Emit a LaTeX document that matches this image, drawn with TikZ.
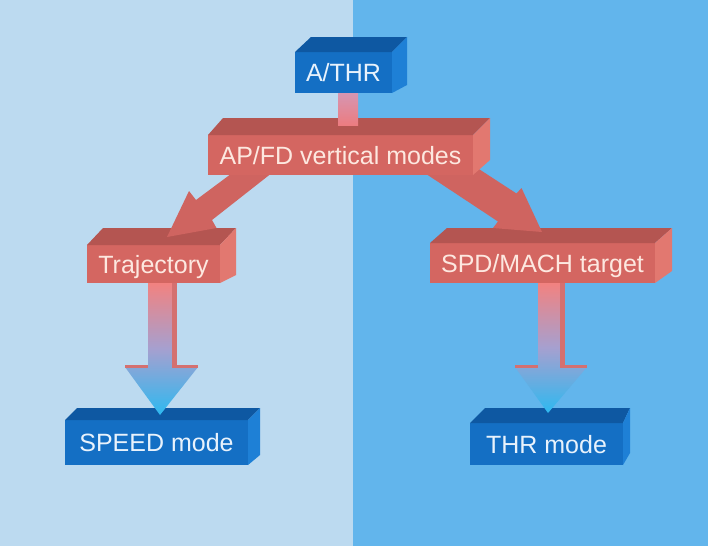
\documentclass[tikz,border=0pt]{standalone}
\usepackage{fontspec}
\setmainfont{Liberation Sans}
\usetikzlibrary{calc}
\pgfdeclarelayer{back}
\pgfdeclarelayer{low}
\pgfdeclarelayer{mid}
\pgfsetlayers{back,low,mid,main}

\definecolor{bgleft}{RGB}{188,218,240}
\definecolor{bgright}{RGB}{98,181,236}
\definecolor{bluefront}{RGB}{20,111,196}
\definecolor{bluetop}{RGB}{14,88,162}
\definecolor{blueside}{RGB}{30,128,214}
\definecolor{redfront}{RGB}{212,102,97}
\definecolor{redtop}{RGB}{180,85,81}
\definecolor{redside}{RGB}{226,120,112}
\definecolor{arrowred}{RGB}{207,100,96}
\definecolor{bandred}{RGB}{212,112,112}
\definecolor{bluetext}{RGB}{232,242,252}
\definecolor{redtext}{RGB}{253,232,224}
\definecolor{gradtop}{RGB}{242,130,128}
\definecolor{gradmid}{RGB}{165,160,208}
\definecolor{gradbot}{RGB}{45,185,240}
\definecolor{linktop}{RGB}{214,150,178}
\definecolor{linkbot}{RGB}{236,124,128}

% #1 node, #2 back-left dx, #3 back-right dx, #4 top dy, #5 side-bottom dy, #6 colour family
\newcommand\cubefaces[6]{%
  \fill[#6top] (#1.north west) -- ++(#2,#4) -- ($(#1.north east)+(#3,#4)$) -- (#1.north east) -- cycle;
  \fill[#6side] (#1.north east) -- ++(#3,#4) -- ($(#1.south east)+(#3,#5)$) -- (#1.south east) -- cycle;
}

\tikzset{
  boxbase/.style={inner sep=0pt, outer sep=0pt, font=\fontsize{25}{30}\selectfont,
    text height=18pt, text depth=0pt},
  bluebox/.style={boxbase, fill=bluefront, text=bluetext},
  redbox/.style={boxbase, fill=redfront, text=redtext},
  blockarrow/.style={fill=arrowred},
  gradarrow/.style={top color=gradtop, bottom color=gradbot, middle color=gradmid},
  sideband/.style={fill=bandred},
  linkbar/.style={top color=linktop, bottom color=linkbot}
}

\begin{document}
\begin{tikzpicture}[x=1pt,y=-1pt]
\useasboundingbox (0,0) rectangle (708,546);

\begin{pgfonlayer}{back}
  \fill[bgleft] (0,0) rectangle (353,546);
  \fill[bgright] (353,0) rectangle (708,546);
\end{pgfonlayer}

% lower boxes
\begin{pgfonlayer}{low}
  \node[redbox, minimum width=133pt, minimum height=38pt] (traj) at (153.5,264) {Trajectory};
  \cubefaces{traj}{16}{16}{-17}{-8}{red}
  \node[redbox, minimum width=225pt, minimum height=40pt] (spd) at (542.5,263) {SPD/MACH target};
  \cubefaces{spd}{17}{17}{-15}{-12}{red}
  \node[bluebox, minimum width=183pt, minimum height=45pt] (speed) at (156.5,442.5) {SPEED mode};
  \cubefaces{speed}{12}{12}{-12}{-10}{blue}
  \node[bluebox, minimum width=153pt, minimum height=42pt] (thr) at (546.5,444) {THR mode};
  \cubefaces{thr}{15}{7}{-15}{-12}{blue}
\end{pgfonlayer}

% upper boxes
\node[redbox, minimum width=265pt, minimum height=40pt] (apfd) at (340.5,155) {AP/FD vertical modes};
\cubefaces{apfd}{15}{17}{-17}{-15}{red}
\node[bluebox, minimum width=97pt, minimum height=41pt] (athr) at (343.5,72.5) {A/THR};
\cubefaces{athr}{16}{15}{-15}{-8}{blue}

% link A/THR -> AP/FD
\shade[linkbar] ($(athr.south)+(-5.5,0)$) rectangle ($(apfd.north)+(17.5,-10)$);

\begin{pgfonlayer}{mid}
  % AP/FD -> Trajectory
  \fill[blockarrow] ($(apfd.south)+(-97.5,-10)$) -- ($(apfd.south)+(-58.5,-10)$)
    -- ($(traj.north)+(58.5,-25)$) -- ($(traj.north)+(63,-17)$)
    -- ($(traj.north)+(13.5,-8)$)
    -- ($(traj.north)+(35.5,-54)$) -- ($(traj.north)+(42.5,-45)$) -- cycle;
  % AP/FD -> SPD/MACH target
  \fill[blockarrow] ($(apfd.south)+(64.5,-15)$) -- ($(apfd.south)+(124.5,-15)$)
    -- ($(spd.north)+(-26,-49.5)$) -- ($(spd.north)+(-21,-55)$)
    -- ($(spd.north)+(-0.5,-11)$) -- ($(spd.north)+(-49.5,-15)$)
    -- ($(spd.north)+(-44.5,-21.5)$) -- cycle;

  % Trajectory -> SPEED mode
  \shade[gradarrow] ($(traj.south)+(-5.5,0)$) -- ($(traj.south)+(18.5,0)$)
    -- ($(traj.south)+(18.5,84)$) -- ($(traj.south)+(44.5,84)$)
    -- ($(speed.north)+(3.5,-5)$) -- ($(traj.south)+(-28.5,84)$)
    -- ($(traj.south)+(-5.5,84)$) -- cycle;
  \fill[sideband] ($(traj.south)+(18.5,0)$) rectangle ($(traj.south)+(23.5,84)$);
  \fill[sideband] ($(traj.south)+(-28.5,82)$) rectangle ($(traj.south)+(-5.5,85)$);
  \fill[sideband] ($(traj.south)+(18.5,82)$) rectangle ($(traj.south)+(44.5,85)$);

  % SPD/MACH target -> THR mode
  \shade[gradarrow] ($(spd.south)+(-4.5,0)$) -- ($(spd.south)+(17.5,0)$)
    -- ($(spd.south)+(17.5,84)$) -- ($(spd.south)+(44.5,84)$)
    -- ($(thr.north)+(1.5,-10)$) -- ($(spd.south)+(-27.5,84)$)
    -- ($(spd.south)+(-4.5,84)$) -- cycle;
  \fill[sideband] ($(spd.south)+(17.5,0)$) rectangle ($(spd.south)+(22.5,84)$);
  \fill[sideband] ($(spd.south)+(-27.5,82)$) rectangle ($(spd.south)+(-4.5,85)$);
  \fill[sideband] ($(spd.south)+(17.5,82)$) rectangle ($(spd.south)+(44.5,85)$);
\end{pgfonlayer}
\end{tikzpicture}
\end{document}
